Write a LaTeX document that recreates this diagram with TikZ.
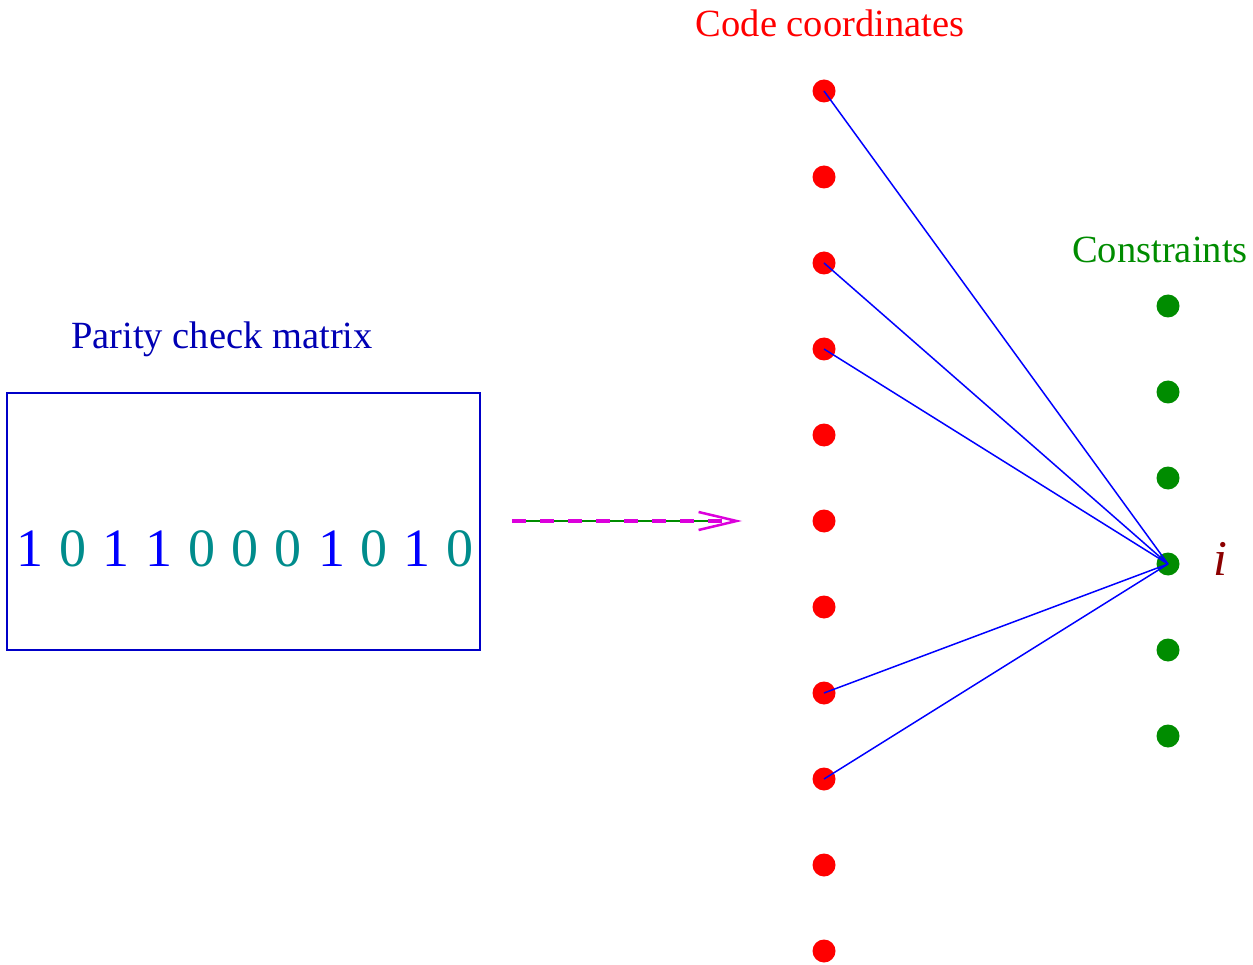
\documentclass[tikz,border=0pt]{standalone}
\usepackage{fontspec}
\setmainfont{Liberation Serif}
\usetikzlibrary{arrows.meta}
\definecolor{cred}{RGB}{255,0,0}
\definecolor{cgreen}{RGB}{0,140,0}
\definecolor{cteal}{RGB}{0,140,140}
\definecolor{cblue}{RGB}{0,0,255}
\definecolor{cboxblue}{RGB}{0,0,200}
\definecolor{clabblue}{RGB}{0,0,180}
\definecolor{cmag}{RGB}{220,0,220}
\definecolor{cdarkred}{RGB}{140,0,0}
\tikzset{
  reddot/.style={circle,fill=cred,inner sep=0pt,minimum size=23pt},
  greendot/.style={circle,fill=cgreen,inner sep=0pt,minimum size=23pt},
  lbl/.style={font=\fontsize{38.5}{40}\selectfont,inner sep=0pt,anchor=base},
  digit/.style={font=\fontsize{54}{56}\selectfont,inner sep=0pt,anchor=base},
  edge/.style={draw=cblue,line width=1.5pt},
}
\begin{document}
\begin{tikzpicture}[x=1pt,y=-1pt]
\useasboundingbox (0,0) rectangle (1253,965);
% labels
\node[lbl,text=cred] (lcode) at (830,37) {Code coordinates};
\node[lbl,text=cgreen] (lcons) at (1160,263) {Constraints};
\node[lbl,text=clabblue] (lpar) at (222,349) {Parity check matrix};
% box
\node[draw=cboxblue,line width=1.5pt,minimum width=473pt,minimum height=257pt,inner sep=0pt] (box) at (243.5,521.5) {};
% digits
\foreach \d/\x [count=\k] in {1/30,0/73,1/116,1/159,0/202,0/245,0/288,1/332,0/374,1/417,0/460}{
  \ifnum\d=1
    \node[digit,text=cblue] (d\k) at (\x,566) {\d};
  \else
    \node[digit,text=cteal] (d\k) at (\x,566) {\d};
  \fi
}
% red dots
\foreach \k in {0,...,10}{
  \node[reddot] (r\k) at (824,91+86*\k) {};
}
% green dots
\foreach \k in {0,...,5}{
  \node[greendot] (g\k) at (1168,306+86*\k) {};
}
\node[font=\fontsize{50}{52}\selectfont\itshape,text=cdarkred,inner sep=0pt,anchor=base] (ilab) at (1220,575) {i};
% edges
\foreach \k in {0,2,3,7,8}{
  \draw[edge] (r\k.center) -- (g3.center);
}
% arrow
\coordinate (as) at (512,521);
\coordinate (ae) at (742,521);
\draw[cgreen,line width=1.2pt] (as) -- (712,521);
\draw[cmag,line width=3.2pt,dash pattern=on 14pt off 14pt,-{Straight Barb[length=38pt,width=18pt,line width=2.5pt]}] (as) -- (ae);
\end{tikzpicture}
\end{document}
